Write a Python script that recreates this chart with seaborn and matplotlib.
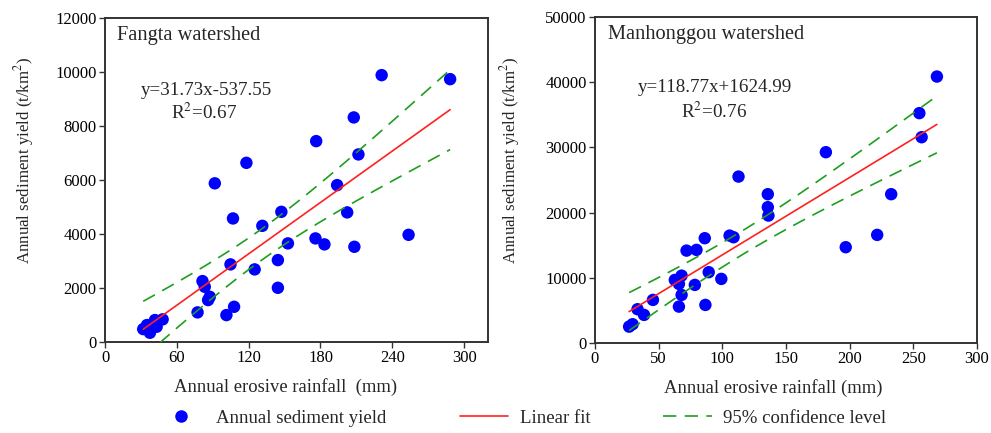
import numpy as np
import pandas as pd
import matplotlib
matplotlib.use("Agg")
import matplotlib.pyplot as plt
from matplotlib.lines import Line2D
import seaborn as sns

# ---------------- data ----------------
fangta_rain = [176.4, 118.1, 91.7, 106.9, 131.4, 147.3, 152.8, 175.8, 183.3, 104.8,
               125.0, 144.4, 144.4, 81.4, 83.3, 87.5, 86.1, 77.3, 107.8, 101.4,
               31.9, 37.5, 41.7, 48.1, 43.1, 35.0, 231.1, 288.3, 207.8, 211.7,
               193.9, 202.3, 208.3, 253.6]
fangta_sed = [7445, 6641, 5882, 4580, 4307, 4826, 3656, 3841, 3619, 2878,
              2693, 3037, 2011, 2259, 2048, 1678, 1556, 1100, 1307, 1000,
              481, 344, 815, 841, 567, 630, 9890, 9741, 8323, 6952,
              5815, 4804, 3530, 3974]

manh_rain = [112.7, 135.7, 135.7, 136.2, 86.2, 105.7, 108.8, 71.9, 79.7, 68.0,
             62.7, 65.9, 89.3, 99.2, 78.4, 45.5, 68.0, 65.9, 86.7, 33.4,
             38.5, 26.8, 29.5, 268.5, 254.7, 256.5, 181.3, 232.6, 221.6, 196.9]
manh_sed = [25510, 22810, 20820, 19530, 16060, 16460, 16210, 14160, 14270, 10320,
            9660, 9050, 10850, 9820, 8900, 6600, 7360, 5570, 5830, 5170,
            4300, 2500, 2870, 40850, 35240, 31550, 29250, 22810, 16570, 14680]

panel_titles = ["Fangta watershed", "Manhonggou watershed"]
fit_slope = [31.73, 118.77]
fit_intercept = [-537.55, 1624.99]
eq_text = ["y=31.73x-537.55", "y=118.77x+1624.99"]
r2_text = [r"R$^2$=0.67", r"R$^2$=0.76"]
x_ticks = [[0, 60, 120, 180, 240, 300], [0, 50, 100, 150, 200, 250, 300]]
x_lims = [(0, 320), (0, 300)]
y_ticks = [[0, 2000, 4000, 6000, 8000, 10000, 12000],
           [0, 10000, 20000, 30000, 40000, 50000]]
y_lims = [(0, 12000), (0, 50000)]

# ---------------- style ----------------
sns.set_theme(style="white")
plt.rcParams["font.family"] = ["Liberation Serif", "DejaVu Serif"]
plt.rcParams["mathtext.fontset"] = "stix"

BLUE = "#0000FF"
RED = "#FF2020"
GREEN = "#1E9E1E"
SPINE = "#333333"

fig = plt.figure(figsize=(9.91, 4.33), dpi=100)
axes = [fig.add_axes([0.106, 0.210, 0.3865, 0.748]),
        fig.add_axes([0.6004, 0.208, 0.3855, 0.753])]

datasets = [(fangta_rain, fangta_sed), (manh_rain, manh_sed)]

try:
    from scipy import stats
    def tcrit(df):
        return stats.t.ppf(0.975, df)
except Exception:
    def tcrit(df):
        return 2.04

for i, ax in enumerate(axes):
    xr, yr = datasets[i]
    df = pd.DataFrame({"rain": xr, "sed": yr})
    sns.scatterplot(data=df, x="rain", y="sed", ax=ax, color=BLUE, s=80,
                    edgecolor="none", zorder=3, legend=False)
    x = np.asarray(xr, float)
    y = np.asarray(yr, float)
    xs = np.linspace(x.min(), x.max(), 100)
    yfit = fit_slope[i] * xs + fit_intercept[i]
    # confidence band of the regression (computed from the data)
    n = len(x)
    res = y - (fit_slope[i] * x + fit_intercept[i])
    s = np.sqrt(np.sum(res ** 2) / (n - 2))
    sxx = np.sum((x - x.mean()) ** 2)
    hw = tcrit(n - 2) * s * np.sqrt(1.0 / n + (xs - x.mean()) ** 2 / sxx)
    line_df = pd.DataFrame({"x": xs, "fit": yfit, "up": yfit + hw, "lo": yfit - hw})
    sns.lineplot(data=line_df, x="x", y="fit", ax=ax, color=RED, lw=1.2, zorder=4)
    sns.lineplot(data=line_df, x="x", y="up", ax=ax, color=GREEN, lw=1.2,
                 zorder=4).lines[-1].set_dashes([8, 5])
    sns.lineplot(data=line_df, x="x", y="lo", ax=ax, color=GREEN, lw=1.2,
                 zorder=4).lines[-1].set_dashes([8, 5])

    ax.set_xlim(*x_lims[i])
    ax.set_ylim(*y_lims[i])
    ax.set_xticks(x_ticks[i])
    ax.set_yticks(y_ticks[i])
    ax.tick_params(axis="both", which="both", direction="out", length=4, width=1,
                   color=SPINE, labelsize=12, labelcolor="black", pad=2,
                   bottom=True, left=True, top=False, right=False)
    for sp in ax.spines.values():
        sp.set_color(SPINE)
        sp.set_linewidth(1.4)
        sp.set_visible(True)
    ax.set_xlabel("Annual erosive rainfall  (mm)" if i == 0 else "Annual erosive rainfall (mm)",
                  fontsize=13.4)
    ax.set_ylabel(r"Annual sediment yield (t/km$^2$)", fontsize=12.2)
    ax.xaxis.set_label_coords([0.47, 0.466][i], -0.11)
    ax.yaxis.set_label_coords([-0.2115, -0.2225][i], [0.562, 0.561][i])
    ax.xaxis.label.set_va("top")
    ax.yaxis.label.set_va("center")
    ax.text([0.0305, 0.034][i], [0.948, 0.945][i], panel_titles[i], transform=ax.transAxes,
            ha="left", va="center", fontsize=14.7)
    ax.text([0.266, 0.313][i], [0.778, 0.782][i], eq_text[i], transform=ax.transAxes,
            ha="center", va="center", fontsize=13.7)
    ax.text([0.259, 0.311][i], [0.707, 0.709][i], r2_text[i], transform=ax.transAxes,
            ha="center", va="center", fontsize=13.7)

handles = [Line2D([], [], ls="none", marker="o", ms=9, color=BLUE, mec="none"),
           Line2D([], [], color=RED, lw=1.2),
           Line2D([], [], color=GREEN, lw=1.2, dashes=[8, 5])]
labels = ["Annual sediment yield", "Linear fit", "95% confidence level"]
fig.legend(handles, labels, loc="center", bbox_to_anchor=(0.526, 1 - 418 / 433),
           ncol=3, frameon=False, fontsize=13.5, handlelength=2.6, columnspacing=3.9,
           handletextpad=0.6)

fig.savefig("out.png", dpi=100)
